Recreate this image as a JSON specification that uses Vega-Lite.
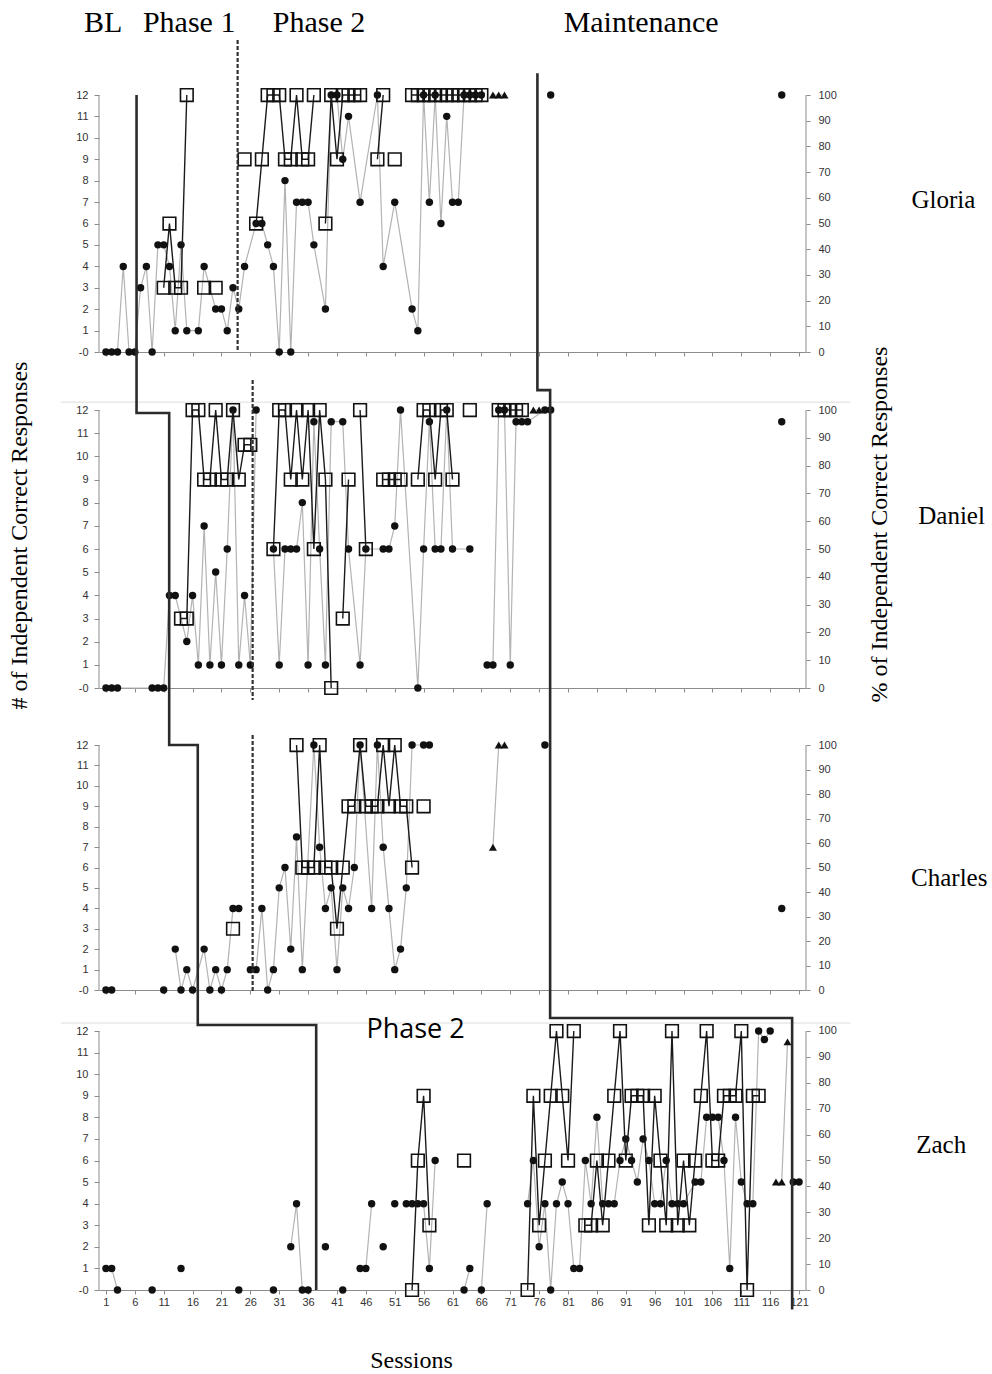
{
  "$schema": "https://vega.github.io/schema/vega-lite/v6.json",
  "background": "white",
  "padding": {"left": 6, "top": 0, "right": 0, "bottom": 0},
  "spacing": 0,
  "bounds": "flush",
  "config": {
    "view": {"stroke": null},
    "axis": {"grid": false, "labelFont": "Liberation Sans", "labelFontSize": 11, "labelColor": "#333333", "tickColor": "#8c8c8c", "domainColor": "#8c8c8c", "titleFont": "Liberation Serif", "titleFontSize": 24, "titleFontWeight": "normal", "titleColor": "#000000"}
  },
  "datasets": {
    "Gn": [{"s":11,"v":3},{"s":12,"v":6},{"s":13,"v":3},{"s":14,"v":3},{"s":15,"v":12},{"s":16,"v":null},{"s":18,"v":3},{"s":19,"v":null},{"s":20,"v":3},{"s":21,"v":null},{"s":25,"v":9},{"s":26,"v":null},{"s":27,"v":6},{"s":28,"v":9},{"s":29,"v":12},{"s":30,"v":12},{"s":31,"v":12},{"s":32,"v":9},{"s":33,"v":9},{"s":34,"v":12},{"s":35,"v":9},{"s":36,"v":9},{"s":37,"v":12},{"s":38,"v":null},{"s":39,"v":6},{"s":40,"v":12},{"s":41,"v":9},{"s":42,"v":12},{"s":43,"v":12},{"s":44,"v":12},{"s":45,"v":12},{"s":46,"v":null},{"s":48,"v":9},{"s":49,"v":12},{"s":50,"v":null},{"s":51,"v":9},{"s":52,"v":null},{"s":54,"v":12},{"s":55,"v":12},{"s":56,"v":12},{"s":57,"v":12},{"s":58,"v":12},{"s":59,"v":12},{"s":60,"v":12},{"s":61,"v":12},{"s":62,"v":12},{"s":63,"v":12},{"s":64,"v":12},{"s":65,"v":12},{"s":66,"v":12}],
    "Gc": [{"s":1,"v":0},{"s":2,"v":0},{"s":3,"v":0},{"s":4,"v":33.3},{"s":5,"v":0},{"s":6,"v":0},{"s":7,"v":25},{"s":8,"v":33.3},{"s":9,"v":0},{"s":10,"v":41.7},{"s":11,"v":41.7},{"s":12,"v":33.3},{"s":13,"v":8.3},{"s":14,"v":41.7},{"s":15,"v":8.3},{"s":17,"v":8.3},{"s":18,"v":33.3},{"s":20,"v":16.7},{"s":21,"v":16.7},{"s":22,"v":8.3},{"s":23,"v":25},{"s":24,"v":16.7},{"s":25,"v":33.3},{"s":27,"v":50},{"s":28,"v":50},{"s":29,"v":41.7},{"s":30,"v":33.3},{"s":31,"v":0},{"s":32,"v":66.7},{"s":33,"v":0},{"s":34,"v":58.3},{"s":35,"v":58.3},{"s":36,"v":58.3},{"s":37,"v":41.7},{"s":39,"v":16.7},{"s":40,"v":100},{"s":41,"v":100},{"s":42,"v":75},{"s":43,"v":91.7},{"s":45,"v":58.3},{"s":48,"v":100},{"s":49,"v":33.3},{"s":51,"v":58.3},{"s":54,"v":16.7},{"s":55,"v":8.3},{"s":56,"v":100},{"s":57,"v":58.3},{"s":58,"v":100},{"s":59,"v":50},{"s":60,"v":91.7},{"s":61,"v":58.3},{"s":62,"v":58.3},{"s":63,"v":100},{"s":64,"v":100},{"s":65,"v":100},{"s":66,"v":100},{"s":67,"v":null},{"s":78,"v":100},{"s":79,"v":null},{"s":118,"v":100}],
    "Gt": [{"s":68,"v":100},{"s":69,"v":100},{"s":70,"v":100}],
    "Dn": [{"s":14,"v":3},{"s":15,"v":3},{"s":16,"v":12},{"s":17,"v":12},{"s":18,"v":9},{"s":19,"v":9},{"s":20,"v":12},{"s":21,"v":9},{"s":22,"v":9},{"s":23,"v":12},{"s":24,"v":9},{"s":25,"v":10.5},{"s":26,"v":10.5},{"s":27,"v":null},{"s":30,"v":6},{"s":31,"v":12},{"s":32,"v":12},{"s":33,"v":9},{"s":34,"v":12},{"s":35,"v":9},{"s":36,"v":12},{"s":37,"v":6},{"s":38,"v":12},{"s":39,"v":9},{"s":40,"v":0},{"s":41,"v":null},{"s":42,"v":3},{"s":43,"v":9},{"s":44,"v":null},{"s":45,"v":12},{"s":46,"v":6},{"s":47,"v":null},{"s":49,"v":9},{"s":50,"v":9},{"s":51,"v":9},{"s":52,"v":9},{"s":53,"v":null},{"s":55,"v":9},{"s":56,"v":12},{"s":57,"v":12},{"s":58,"v":9},{"s":59,"v":12},{"s":60,"v":12},{"s":61,"v":9},{"s":62,"v":null},{"s":64,"v":12},{"s":65,"v":null},{"s":69,"v":12},{"s":70,"v":12},{"s":71,"v":12},{"s":72,"v":12},{"s":73,"v":12}],
    "Dc": [{"s":1,"v":0},{"s":2,"v":0},{"s":3,"v":0},{"s":9,"v":0},{"s":10,"v":0},{"s":11,"v":0},{"s":12,"v":33.3},{"s":13,"v":33.3},{"s":15,"v":16.7},{"s":16,"v":33.3},{"s":17,"v":8.3},{"s":18,"v":58.3},{"s":19,"v":8.3},{"s":20,"v":41.7},{"s":21,"v":8.3},{"s":22,"v":50},{"s":23,"v":100},{"s":24,"v":8.3},{"s":25,"v":33.3},{"s":26,"v":8.3},{"s":27,"v":100},{"s":28,"v":null},{"s":30,"v":50},{"s":31,"v":8.3},{"s":32,"v":50},{"s":33,"v":50},{"s":34,"v":50},{"s":35,"v":66.7},{"s":36,"v":8.3},{"s":37,"v":95.8},{"s":38,"v":50},{"s":39,"v":8.3},{"s":40,"v":95.8},{"s":42,"v":95.8},{"s":43,"v":50},{"s":45,"v":8.3},{"s":46,"v":50},{"s":49,"v":50},{"s":50,"v":50},{"s":51,"v":58.3},{"s":52,"v":100},{"s":55,"v":0},{"s":56,"v":50},{"s":57,"v":95.8},{"s":58,"v":50},{"s":59,"v":50},{"s":60,"v":100},{"s":61,"v":50},{"s":64,"v":50},{"s":65,"v":null},{"s":67,"v":8.3},{"s":68,"v":8.3},{"s":69,"v":100},{"s":70,"v":100},{"s":71,"v":8.3},{"s":72,"v":95.8},{"s":73,"v":95.8},{"s":74,"v":95.8},{"s":77,"v":100},{"s":78,"v":100},{"s":79,"v":null},{"s":118,"v":95.8}],
    "Dt": [{"s":75,"v":100},{"s":76,"v":100}],
    "Cn": [{"s":23,"v":3},{"s":24,"v":null},{"s":34,"v":12},{"s":35,"v":6},{"s":36,"v":6},{"s":37,"v":6},{"s":38,"v":12},{"s":39,"v":6},{"s":40,"v":6},{"s":41,"v":3},{"s":42,"v":6},{"s":43,"v":9},{"s":44,"v":9},{"s":45,"v":12},{"s":46,"v":9},{"s":47,"v":9},{"s":48,"v":9},{"s":49,"v":12},{"s":50,"v":9},{"s":51,"v":12},{"s":52,"v":9},{"s":53,"v":9},{"s":54,"v":6},{"s":55,"v":null},{"s":56,"v":9}],
    "Cc": [{"s":1,"v":0},{"s":2,"v":0},{"s":3,"v":null},{"s":11,"v":0},{"s":12,"v":null},{"s":13,"v":16.7},{"s":14,"v":0},{"s":15,"v":8.3},{"s":16,"v":0},{"s":18,"v":16.7},{"s":19,"v":0},{"s":20,"v":8.3},{"s":21,"v":0},{"s":22,"v":8.3},{"s":23,"v":33.3},{"s":24,"v":33.3},{"s":25,"v":null},{"s":26,"v":8.3},{"s":27,"v":8.3},{"s":28,"v":33.3},{"s":29,"v":0},{"s":30,"v":8.3},{"s":31,"v":41.7},{"s":32,"v":50},{"s":33,"v":16.7},{"s":34,"v":62.5},{"s":35,"v":8.3},{"s":37,"v":100},{"s":38,"v":58.3},{"s":39,"v":33.3},{"s":40,"v":41.7},{"s":41,"v":8.3},{"s":42,"v":41.7},{"s":43,"v":33.3},{"s":44,"v":50},{"s":45,"v":100},{"s":47,"v":33.3},{"s":48,"v":100},{"s":49,"v":58.3},{"s":50,"v":33.3},{"s":51,"v":8.3},{"s":52,"v":16.7},{"s":53,"v":41.7},{"s":54,"v":100},{"s":56,"v":100},{"s":57,"v":100},{"s":58,"v":null},{"s":77,"v":100},{"s":78,"v":null},{"s":118,"v":33.3}],
    "Ct": [{"s":68,"v":58.3},{"s":69,"v":100},{"s":70,"v":100}],
    "Zn": [{"s":54,"v":0},{"s":55,"v":6},{"s":56,"v":9},{"s":57,"v":3},{"s":58,"v":null},{"s":63,"v":6},{"s":64,"v":null},{"s":74,"v":0},{"s":75,"v":9},{"s":76,"v":3},{"s":77,"v":6},{"s":78,"v":9},{"s":79,"v":12},{"s":80,"v":9},{"s":81,"v":6},{"s":82,"v":12},{"s":83,"v":null},{"s":84,"v":3},{"s":85,"v":3},{"s":86,"v":6},{"s":87,"v":3},{"s":88,"v":6},{"s":89,"v":9},{"s":90,"v":12},{"s":91,"v":6},{"s":92,"v":9},{"s":93,"v":9},{"s":94,"v":9},{"s":95,"v":3},{"s":96,"v":9},{"s":97,"v":6},{"s":98,"v":3},{"s":99,"v":12},{"s":100,"v":3},{"s":101,"v":6},{"s":102,"v":3},{"s":103,"v":6},{"s":104,"v":9},{"s":105,"v":12},{"s":106,"v":6},{"s":107,"v":6},{"s":108,"v":9},{"s":109,"v":9},{"s":110,"v":9},{"s":111,"v":12},{"s":112,"v":0},{"s":113,"v":9},{"s":114,"v":9}],
    "Zc": [{"s":1,"v":8.3},{"s":2,"v":8.3},{"s":3,"v":0},{"s":4,"v":null},{"s":9,"v":0},{"s":10,"v":null},{"s":14,"v":8.3},{"s":15,"v":null},{"s":24,"v":0},{"s":25,"v":null},{"s":30,"v":0},{"s":31,"v":null},{"s":33,"v":16.7},{"s":34,"v":33.3},{"s":35,"v":0},{"s":36,"v":0},{"s":37,"v":null},{"s":39,"v":16.7},{"s":40,"v":null},{"s":42,"v":0},{"s":43,"v":null},{"s":45,"v":8.3},{"s":46,"v":8.3},{"s":47,"v":33.3},{"s":48,"v":null},{"s":49,"v":16.7},{"s":50,"v":null},{"s":51,"v":33.3},{"s":52,"v":null},{"s":53,"v":33.3},{"s":54,"v":33.3},{"s":55,"v":33.3},{"s":56,"v":33.3},{"s":57,"v":8.3},{"s":58,"v":50},{"s":59,"v":null},{"s":63,"v":0},{"s":64,"v":8.3},{"s":65,"v":null},{"s":66,"v":0},{"s":67,"v":33.3},{"s":68,"v":null},{"s":74,"v":33.3},{"s":75,"v":50},{"s":76,"v":16.7},{"s":77,"v":33.3},{"s":78,"v":0},{"s":79,"v":33.3},{"s":80,"v":41.7},{"s":81,"v":33.3},{"s":82,"v":8.3},{"s":83,"v":8.3},{"s":84,"v":50},{"s":85,"v":33.3},{"s":86,"v":66.7},{"s":87,"v":33.3},{"s":88,"v":33.3},{"s":89,"v":33.3},{"s":90,"v":50},{"s":91,"v":58.3},{"s":92,"v":50},{"s":93,"v":41.7},{"s":94,"v":58.3},{"s":95,"v":50},{"s":96,"v":33.3},{"s":97,"v":33.3},{"s":98,"v":50},{"s":99,"v":33.3},{"s":100,"v":33.3},{"s":101,"v":33.3},{"s":103,"v":41.7},{"s":104,"v":41.7},{"s":105,"v":66.7},{"s":106,"v":66.7},{"s":107,"v":66.7},{"s":108,"v":50},{"s":109,"v":8.3},{"s":110,"v":66.7},{"s":111,"v":41.7},{"s":112,"v":33.3},{"s":113,"v":33.3},{"s":114,"v":100},{"s":115,"v":96.7},{"s":116,"v":100},{"s":117,"v":null},{"s":120,"v":41.7},{"s":121,"v":41.7}],
    "Zt": [{"s":117,"v":41.7},{"s":118,"v":41.7},{"s":119,"v":95.8}],
    "Gph": [{"id":"A","i":0,"s":6.3,"v":12},{"id":"A","i":1,"s":6.3,"v":0},{"id":"M","i":0,"s":75.7,"v":13.01},{"id":"M","i":1,"s":75.7,"v":0}],
    "Gd": [{"i":0,"s":23.8,"v":14.57},{"i":1,"s":23.8,"v":0}],
    "Dph": [{"id":"A","i":0,"s":6.3,"v":14.504},{"id":"A","i":1,"s":6.3,"v":11.87},{"id":"A","i":2,"s":11.95,"v":11.87},{"id":"A","i":3,"s":11.95,"v":0},{"id":"M","i":0,"s":75.7,"v":14.504},{"id":"M","i":1,"s":75.7,"v":12.86},{"id":"M","i":2,"s":77.9,"v":12.86},{"id":"M","i":3,"s":77.9,"v":0}],
    "Dd": [{"i":0,"s":26.4,"v":13.3},{"i":1,"s":26.4,"v":-0.52}],
    "Cph": [{"id":"A","i":0,"s":11.95,"v":14.792},{"id":"A","i":1,"s":11.95,"v":12},{"id":"A","i":2,"s":16.9,"v":12},{"id":"A","i":3,"s":16.9,"v":0},{"id":"M","i":0,"s":77.9,"v":14.792},{"id":"M","i":1,"s":77.9,"v":0}],
    "Cd": [{"i":0,"s":26.4,"v":12.49},{"i":1,"s":26.4,"v":-0.15}],
    "Zph": [{"id":"A","i":0,"s":16.9,"v":13.9},{"id":"A","i":1,"s":16.9,"v":12.28},{"id":"A","i":2,"s":37.4,"v":12.28},{"id":"A","i":3,"s":37.4,"v":0},{"id":"M","i":0,"s":77.9,"v":13.9},{"id":"M","i":1,"s":77.9,"v":12.6},{"id":"M","i":2,"s":119.8,"v":12.6},{"id":"M","i":3,"s":119.8,"v":-0.9}],
    "axl": [{"s":-0.2,"v":0,"v2":12},{"s":122.2,"v":0,"v2":12}],
    "Dsep": [{"s":-6.8,"s2":129.9,"v":12.34}],
    "Zsep": [{"s":-6.8,"s2":129.9,"v":12.37}],
    "hdr": [{"s":-2.81,"v":14.94,"t":"BL"},{"s":7.4,"v":14.94,"t":"Phase 1"},{"s":29.89,"v":14.94,"t":"Phase 2"},{"s":80.24,"v":14.94,"t":"Maintenance"}],
    "Gname": [{"s":146,"v":7.1,"t":"Gloria"}],
    "Dname": [{"s":147.4,"v":7.42,"t":"Daniel"}],
    "Cname": [{"s":147.0,"v":5.49,"t":"Charles"}],
    "Zname": [{"s":145.6,"v":6.72,"t":"Zach"}],
    "Zph2": [{"s":54.6,"v":12.05,"t":"Phase 2"}]
  },
  "vconcat": [
    {
      "width": 707, "height": 352,
      "encoding": {"x": {"field": "s", "type": "quantitative", "scale": {"domain": [-0.2, 122.2], "nice": false, "zero": false}, "axis": {"values": [1,6,11,16,21,26,31,36,41,46,51,56,61,66,71,76,81,86,91,96,101,106,111,116,121], "labels": false, "ticks": true, "tickSize": 4, "domain": true, "title": null}}},
      "layer": [
        {
          "encoding": {"y": {"field": "v", "type": "quantitative", "scale": {"domain": [0, 136.97], "nice": false, "zero": false}, "axis": {"orient": "right", "values": [0,10,20,30,40,50,60,70,80,90,100], "domain": false, "tickSize": 4, "labelPadding": 8, "title": null}}},
          "layer": [
            {"data": {"name": "Gc"}, "mark": {"type": "line", "color": "#b3b3b3", "strokeWidth": 1.2}},
            {"data": {"name": "Gc"}, "mark": {"type": "point", "shape": "circle", "filled": true, "color": "#111111", "size": 55, "opacity": 1}},
            {"data": {"name": "Gt"}, "mark": {"type": "line", "color": "#b3b3b3", "strokeWidth": 1.2}},
            {"data": {"name": "Gt"}, "mark": {"type": "point", "shape": "triangle-up", "filled": true, "color": "#111111", "size": 65, "opacity": 1}}
          ]
        },
        {
          "encoding": {"y": {"field": "v", "type": "quantitative", "scale": {"domain": [0, 16.436], "nice": false, "zero": false}, "axis": {"orient": "left", "values": [0,1,2,3,4,5,6,7,8,9,10,11,12], "domain": false, "tickSize": 5, "labelPadding": 6, "title": null, "labelExpr": "datum.value === 0 ? '-0' : datum.label"}}},
          "layer": [
            {"data": {"name": "axl"}, "mark": {"type": "rule", "color": "#8c8c8c", "strokeWidth": 1}, "encoding": {"y2": {"field": "v2"}}},
            {"data": {"name": "Gn"}, "mark": {"type": "line", "color": "#1a1a1a", "strokeWidth": 1.4}},
            {"data": {"name": "Gn"}, "mark": {"type": "point", "shape": "square", "filled": false, "color": "#111111", "strokeWidth": 1.6, "size": 160, "opacity": 1}},
            {"data": {"name": "Gph"}, "mark": {"type": "line", "color": "#2b2b2b", "strokeWidth": 2.6}, "encoding": {"detail": {"field": "id"}, "order": {"field": "i"}}},
            {"data": {"name": "Gd"}, "mark": {"type": "line", "color": "#333333", "strokeWidth": 2.2, "strokeDash": [4, 2]}, "encoding": {"order": {"field": "i"}}},
            {"data": {"name": "hdr"}, "mark": {"type": "text", "font": "Liberation Serif", "fontSize": 30, "align": "left", "baseline": "alphabetic", "color": "#000000"}, "encoding": {"text": {"field": "t"}}},
            {"data": {"name": "Gname"}, "mark": {"type": "text", "font": "Liberation Serif", "fontSize": 25, "align": "center", "baseline": "middle", "color": "#000000"}, "encoding": {"text": {"field": "t"}}}
          ]
        }
      ],
      "resolve": {"scale": {"y": "independent"}}
    },
    {
      "width": 707, "height": 336,
      "encoding": {"x": {"field": "s", "type": "quantitative", "scale": {"domain": [-0.2, 122.2], "nice": false, "zero": false}, "axis": {"values": [1,6,11,16,21,26,31,36,41,46,51,56,61,66,71,76,81,86,91,96,101,106,111,116,121], "labels": false, "ticks": true, "tickSize": 4, "domain": true, "title": null}}},
      "layer": [
        {
          "encoding": {"y": {"field": "v", "type": "quantitative", "scale": {"domain": [0, 120.87], "nice": false, "zero": false}, "axis": {"orient": "right", "values": [0,10,20,30,40,50,60,70,80,90,100], "domain": false, "tickSize": 4, "labelPadding": 8, "title": "% of Independent Correct Responses", "titleAngle": 270, "titleX": 73, "titleY": 172, "titleAlign": "center", "titleBaseline": "middle"}}},
          "layer": [
            {"data": {"name": "Dc"}, "mark": {"type": "line", "color": "#b3b3b3", "strokeWidth": 1.2}},
            {"data": {"name": "Dc"}, "mark": {"type": "point", "shape": "circle", "filled": true, "color": "#111111", "size": 55, "opacity": 1}},
            {"data": {"name": "Dt"}, "mark": {"type": "line", "color": "#b3b3b3", "strokeWidth": 1.2}},
            {"data": {"name": "Dt"}, "mark": {"type": "point", "shape": "triangle-up", "filled": true, "color": "#111111", "size": 65, "opacity": 1}}
          ]
        },
        {
          "encoding": {"y": {"field": "v", "type": "quantitative", "scale": {"domain": [0, 14.504], "nice": false, "zero": false}, "axis": {"orient": "left", "values": [0,1,2,3,4,5,6,7,8,9,10,11,12], "domain": false, "tickSize": 5, "labelPadding": 6, "labelExpr": "datum.value === 0 ? '-0' : datum.label", "title": "# of Independent Correct Responses", "titleAngle": 270, "titleX": -80, "titleY": 183, "titleAlign": "center", "titleBaseline": "middle"}}},
          "layer": [
            {"data": {"name": "Dsep"}, "mark": {"type": "rule", "color": "#dddddd", "strokeWidth": 1}, "encoding": {"x2": {"field": "s2"}}},
            {"data": {"name": "axl"}, "mark": {"type": "rule", "color": "#8c8c8c", "strokeWidth": 1}, "encoding": {"y2": {"field": "v2"}}},
            {"data": {"name": "Dn"}, "mark": {"type": "line", "color": "#1a1a1a", "strokeWidth": 1.4}},
            {"data": {"name": "Dn"}, "mark": {"type": "point", "shape": "square", "filled": false, "color": "#111111", "strokeWidth": 1.6, "size": 160, "opacity": 1}},
            {"data": {"name": "Dph"}, "mark": {"type": "line", "color": "#2b2b2b", "strokeWidth": 2.6}, "encoding": {"detail": {"field": "id"}, "order": {"field": "i"}}},
            {"data": {"name": "Dd"}, "mark": {"type": "line", "color": "#333333", "strokeWidth": 2.2, "strokeDash": [4, 2]}, "encoding": {"order": {"field": "i"}}},
            {"data": {"name": "Dname"}, "mark": {"type": "text", "font": "Liberation Serif", "fontSize": 25, "align": "center", "baseline": "middle", "color": "#000000"}, "encoding": {"text": {"field": "t"}}}
          ]
        }
      ],
      "resolve": {"scale": {"y": "independent"}}
    },
    {
      "width": 707, "height": 302,
      "encoding": {"x": {"field": "s", "type": "quantitative", "scale": {"domain": [-0.2, 122.2], "nice": false, "zero": false}, "axis": {"values": [1,6,11,16,21,26,31,36,41,46,51,56,61,66,71,76,81,86,91,96,101,106,111,116,121], "labels": false, "ticks": true, "tickSize": 4, "domain": true, "title": null}}},
      "layer": [
        {
          "encoding": {"y": {"field": "v", "type": "quantitative", "scale": {"domain": [0, 123.27], "nice": false, "zero": false}, "axis": {"orient": "right", "values": [0,10,20,30,40,50,60,70,80,90,100], "domain": false, "tickSize": 4, "labelPadding": 8, "title": null}}},
          "layer": [
            {"data": {"name": "Cc"}, "mark": {"type": "line", "color": "#b3b3b3", "strokeWidth": 1.2}},
            {"data": {"name": "Cc"}, "mark": {"type": "point", "shape": "circle", "filled": true, "color": "#111111", "size": 55, "opacity": 1}},
            {"data": {"name": "Ct"}, "mark": {"type": "line", "color": "#b3b3b3", "strokeWidth": 1.2}},
            {"data": {"name": "Ct"}, "mark": {"type": "point", "shape": "triangle-up", "filled": true, "color": "#111111", "size": 65, "opacity": 1}}
          ]
        },
        {
          "encoding": {"y": {"field": "v", "type": "quantitative", "scale": {"domain": [0, 14.792], "nice": false, "zero": false}, "axis": {"orient": "left", "values": [0,1,2,3,4,5,6,7,8,9,10,11,12], "domain": false, "tickSize": 5, "labelPadding": 6, "title": null, "labelExpr": "datum.value === 0 ? '-0' : datum.label"}}},
          "layer": [
            {"data": {"name": "axl"}, "mark": {"type": "rule", "color": "#8c8c8c", "strokeWidth": 1}, "encoding": {"y2": {"field": "v2"}}},
            {"data": {"name": "Cn"}, "mark": {"type": "line", "color": "#1a1a1a", "strokeWidth": 1.4}},
            {"data": {"name": "Cn"}, "mark": {"type": "point", "shape": "square", "filled": false, "color": "#111111", "strokeWidth": 1.6, "size": 160, "opacity": 1}},
            {"data": {"name": "Cph"}, "mark": {"type": "line", "color": "#2b2b2b", "strokeWidth": 2.6}, "encoding": {"detail": {"field": "id"}, "order": {"field": "i"}}},
            {"data": {"name": "Cd"}, "mark": {"type": "line", "color": "#333333", "strokeWidth": 2.2, "strokeDash": [4, 2]}, "encoding": {"order": {"field": "i"}}},
            {"data": {"name": "Cname"}, "mark": {"type": "text", "font": "Liberation Serif", "fontSize": 25, "align": "center", "baseline": "middle", "color": "#000000"}, "encoding": {"text": {"field": "t"}}}
          ]
        }
      ],
      "resolve": {"scale": {"y": "independent"}}
    },
    {
      "width": 707, "height": 300,
      "encoding": {"x": {"field": "s", "type": "quantitative", "scale": {"domain": [-0.2, 122.2], "nice": false, "zero": false}, "axis": {"values": [1,6,11,16,21,26,31,36,41,46,51,56,61,66,71,76,81,86,91,96,101,106,111,116,121], "labels": true, "labelPadding": 2, "labelOverlap": false, "labelFlush": false, "ticks": true, "tickSize": 4, "domain": true, "title": "Sessions", "titleX": 312, "titleY": 70, "titleAlign": "center", "titleBaseline": "middle"}}},
      "layer": [
        {
          "encoding": {"y": {"field": "v", "type": "quantitative", "scale": {"domain": [0, 115.83], "nice": false, "zero": false}, "axis": {"orient": "right", "values": [0,10,20,30,40,50,60,70,80,90,100], "domain": false, "tickSize": 4, "labelPadding": 8, "title": null}}},
          "layer": [
            {"data": {"name": "Zc"}, "mark": {"type": "line", "color": "#b3b3b3", "strokeWidth": 1.2}},
            {"data": {"name": "Zc"}, "mark": {"type": "point", "shape": "circle", "filled": true, "color": "#111111", "size": 55, "opacity": 1}},
            {"data": {"name": "Zt"}, "mark": {"type": "line", "color": "#b3b3b3", "strokeWidth": 1.2}},
            {"data": {"name": "Zt"}, "mark": {"type": "point", "shape": "triangle-up", "filled": true, "color": "#111111", "size": 65, "opacity": 1}}
          ]
        },
        {
          "encoding": {"y": {"field": "v", "type": "quantitative", "scale": {"domain": [0, 13.9], "nice": false, "zero": false}, "axis": {"orient": "left", "values": [0,1,2,3,4,5,6,7,8,9,10,11,12], "domain": false, "tickSize": 5, "labelPadding": 6, "title": null, "labelExpr": "datum.value === 0 ? '-0' : datum.label"}}},
          "layer": [
            {"data": {"name": "Zsep"}, "mark": {"type": "rule", "color": "#dddddd", "strokeWidth": 1}, "encoding": {"x2": {"field": "s2"}}},
            {"data": {"name": "axl"}, "mark": {"type": "rule", "color": "#8c8c8c", "strokeWidth": 1}, "encoding": {"y2": {"field": "v2"}}},
            {"data": {"name": "Zn"}, "mark": {"type": "line", "color": "#1a1a1a", "strokeWidth": 1.4}},
            {"data": {"name": "Zn"}, "mark": {"type": "point", "shape": "square", "filled": false, "color": "#111111", "strokeWidth": 1.6, "size": 160, "opacity": 1}},
            {"data": {"name": "Zph"}, "mark": {"type": "line", "color": "#2b2b2b", "strokeWidth": 2.6}, "encoding": {"detail": {"field": "id"}, "order": {"field": "i"}}},
            {"data": {"name": "Zph2"}, "mark": {"type": "text", "font": "Open Sans", "fontSize": 27, "align": "center", "baseline": "middle", "color": "#000000"}, "encoding": {"text": {"field": "t"}}},
            {"data": {"name": "Zname"}, "mark": {"type": "text", "font": "Liberation Serif", "fontSize": 25, "align": "center", "baseline": "middle", "color": "#000000"}, "encoding": {"text": {"field": "t"}}}
          ]
        }
      ],
      "resolve": {"scale": {"y": "independent"}}
    }
  ]
}
